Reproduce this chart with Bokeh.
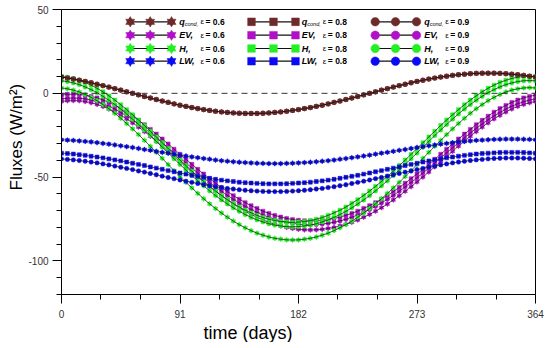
from bokeh.plotting import figure
from bokeh.models import Range1d, FixedTicker, Label, Span, Title
from bokeh.embed import file_html
from bokeh.resources import INLINE

days = [0, 4.55, 9.1, 13.65, 18.2, 22.75, 27.3, 31.85, 36.4, 40.95, 45.5, 50.05, 54.6, 59.15, 63.7,
        68.25, 72.8, 77.35, 81.9, 86.45, 91, 95.55, 100.1, 104.65, 109.2, 113.75, 118.3, 122.85,
        127.4, 131.95, 136.5, 141.05, 145.6, 150.15, 154.7, 159.25, 163.8, 168.35, 172.9, 177.45,
        182, 186.55, 191.1, 195.65, 200.2, 204.75, 209.3, 213.85, 218.4, 222.95, 227.5, 232.05,
        236.6, 241.15, 245.7, 250.25, 254.8, 259.35, 263.9, 268.45, 273, 277.55, 282.1, 286.65,
        291.2, 295.75, 300.3, 304.85, 309.4, 313.95, 318.5, 323.05, 327.6, 332.15, 336.7, 341.25,
        345.8, 350.35, 354.9, 359.45, 364]

q_cond = [9.7, 9.1, 8.5, 7.8, 7.1, 6.3, 5.4, 4.6, 3.7, 2.8, 1.9, 0.9, 0.0, -0.9, -1.9, -2.8, -3.7,
          -4.6, -5.4, -6.3, -7.1, -7.8, -8.5, -9.1, -9.7, -10.2, -10.7, -11.1, -11.4, -11.7, -11.9,
          -12.0, -12.0, -12.0, -11.9, -11.7, -11.4, -11.1, -10.7, -10.2, -9.7, -9.1, -8.5, -7.8,
          -7.1, -6.3, -5.4, -4.6, -3.7, -2.8, -1.9, -0.9, 0.0, 0.9, 1.9, 2.8, 3.7, 4.6, 5.4, 6.3,
          7.1, 7.8, 8.5, 9.1, 9.7, 10.2, 10.7, 11.1, 11.4, 11.7, 11.9, 12.0, 12.0, 12.0, 11.9, 11.7,
          11.4, 11.1, 10.7, 10.2, 9.7]

lw_06 = [-27.7, -27.9, -28.1, -28.4, -28.7, -29.0, -29.4, -29.9, -30.3, -30.8, -31.3, -31.8, -32.3,
         -32.9, -33.5, -34.0, -34.6, -35.2, -35.7, -36.3, -36.9, -37.4, -37.9, -38.4, -38.9, -39.3,
         -39.8, -40.2, -40.5, -40.8, -41.1, -41.3, -41.5, -41.7, -41.8, -41.9, -41.9,
         -41.9, -41.8, -41.7, -41.5, -41.3, -41.1, -40.8, -40.5, -40.2, -39.8, -39.3, -38.9, -38.4,
         -37.9, -37.4, -36.9, -36.3, -35.7, -35.2, -34.6, -34.0, -33.5, -32.9, -32.3, -31.8, -31.3,
         -30.8, -30.3, -29.9, -29.4, -29.0, -28.7, -28.4, -28.1, -27.9, -27.7, -27.5, -27.4, -27.3,
         -27.3, -27.3, -27.4, -27.5, -27.7]
lw_08 = [-35.7, -35.9, -36.2, -36.6, -37.0, -37.5, -38.0, -38.5, -39.1, -39.7, -40.3, -41.0, -41.7,
         -42.4, -43.1, -43.9, -44.6, -45.3, -46.1, -46.8, -47.5, -48.2, -48.9, -49.5, -50.1, -50.7,
         -51.3, -51.8, -52.2, -52.6, -53.0, -53.3, -53.5, -53.7, -53.9, -54.0, -54.0,
         -54.0, -53.9, -53.7, -53.5, -53.3, -53.0, -52.6, -52.2, -51.8, -51.3, -50.7, -50.1, -49.5,
         -48.9, -48.2, -47.5, -46.8, -46.1, -45.3, -44.6, -43.9, -43.1, -42.4, -41.7, -41.0, -40.3,
         -39.7, -39.1, -38.5, -38.0, -37.5, -37.0, -36.6, -36.2, -35.9, -35.7, -35.5, -35.3, -35.2,
         -35.2, -35.2, -35.3, -35.5, -35.7]
lw_09 = [-39.1, -39.4, -39.7, -40.1, -40.5, -41.0, -41.5, -42.1, -42.7, -43.4, -44.1, -44.8, -45.5,
         -46.3, -47.0, -47.8, -48.6, -49.4, -50.2, -50.9, -51.7, -52.4, -53.1, -53.8, -54.5, -55.1,
         -55.7, -56.2, -56.7, -57.1, -57.5, -57.8, -58.1, -58.3, -58.5, -58.6, -58.6,
         -58.6, -58.5, -58.3, -58.1, -57.8, -57.5, -57.1, -56.7, -56.2, -55.7, -55.1, -54.5, -53.8,
         -53.1, -52.4, -51.7, -50.9, -50.2, -49.4, -48.6, -47.8, -47.0, -46.3, -45.5, -44.8, -44.1,
         -43.4, -42.7, -42.1, -41.5, -41.0, -40.5, -40.1, -39.7, -39.4, -39.1, -38.9, -38.7, -38.6,
         -38.6, -38.6, -38.7, -38.9, -39.1]

h_06 = [3.2, 2.7, 1.9, 0.8, -0.7, -2.4, -4.4, -6.7, -9.2, -11.9, -14.9, -18.0, -21.2, -24.6, -28.1,
        -31.6, -35.2, -38.8, -42.5, -46.1, -49.6, -53.1, -56.4, -59.7, -62.9, -65.9, -68.7, -71.4,
        -73.9, -76.2, -78.3, -80.2, -81.9, -83.4, -84.6, -85.7, -86.5, -87.0, -87.4, -87.5,
        -87.4, -87.0, -86.5, -85.7, -84.6, -83.4, -81.9, -80.2, -78.3, -76.2, -73.9, -71.4, -68.7,
        -65.9, -62.9, -59.7, -56.4, -53.1, -49.6, -46.1, -42.5, -38.8, -35.2, -31.6, -28.1, -24.6,
        -21.2, -18.0, -14.9, -11.9, -9.2, -6.7, -4.4, -2.4, -0.7, 0.8, 1.9, 2.7, 3.2, 3.4, 3.2]
h_08 = [10.1, 9.6, 8.9, 7.8, 6.5, 4.9, 3.0, 0.9, -1.5, -4.0, -6.8, -9.7, -12.8, -15.9, -19.2, -22.6,
        -26.0, -29.5, -32.9, -36.4, -39.8, -43.1, -46.4, -49.5, -52.6, -55.5, -58.3, -60.9, -63.4,
        -65.7, -67.8, -69.7, -71.3, -72.8, -74.1, -75.1, -75.9, -76.5, -76.8, -77.0,
        -76.8, -76.5, -75.9, -75.1, -74.1, -72.8, -71.3, -69.7, -67.8, -65.7, -63.4, -60.9, -58.3,
        -55.5, -52.6, -49.5, -46.4, -43.1, -39.8, -36.4, -32.9, -29.5, -26.0, -22.6, -19.2, -15.9,
        -12.8, -9.7, -6.8, -4.0, -1.5, 0.9, 3.0, 4.9, 6.5, 7.8, 8.9, 9.6, 10.1, 10.2, 10.1]
h_09 = [7.5, 7.0, 6.2, 5.2, 3.8, 2.2, 0.4, -1.8, -4.1, -6.7, -9.4, -12.3, -15.4, -18.6, -21.9, -25.2,
        -28.7, -32.1, -35.6, -39.0, -42.4, -45.8, -49.0, -52.2, -55.2, -58.2, -61.0, -63.6, -66.0,
        -68.3, -70.4, -72.3, -74.0, -75.5, -76.7, -77.8, -78.6, -79.1, -79.5, -79.6,
        -79.5, -79.1, -78.6, -77.8, -76.7, -75.5, -74.0, -72.3, -70.4, -68.3, -66.0, -63.6, -61.0,
        -58.2, -55.2, -52.2, -49.0, -45.8, -42.4, -39.0, -35.6, -32.1, -28.7, -25.2, -21.9, -18.6,
        -15.4, -12.3, -9.4, -6.7, -4.1, -1.8, 0.4, 2.2, 3.8, 5.2, 6.2, 7.0, 7.5, 7.6, 7.5]

ev_06 = [-4.9, -4.4,
         -4.3, -4.4, -4.9, -5.6, -6.6, -7.8, -9.3, -11.1, -13.1, -15.2, -17.6, -20.1, -22.8, -25.6,
         -28.6, -31.5, -34.6, -37.7, -40.8, -43.8, -46.9, -49.9, -52.8, -55.7, -58.4, -61.1, -63.6,
         -66.0, -68.2, -70.3, -72.2, -73.9, -75.5, -76.9, -78.1, -79.1, -80.0, -80.6, -81.1, -81.4,
         -81.5,
         -81.4, -81.1, -80.6, -80.0, -79.1, -78.1, -76.9, -75.5, -73.9, -72.2, -70.3, -68.2, -66.0,
         -63.6, -61.1, -58.4, -55.7, -52.8, -49.9, -46.9, -43.8, -40.8, -37.7, -34.6, -31.5, -28.6,
         -25.6, -22.8, -20.1, -17.6, -15.2, -13.1, -11.1, -9.3, -7.8, -6.6, -5.6, -4.9]
ev_08 = [-1.1, -0.6,
         -0.5, -0.6, -1.1, -1.8, -2.7, -4.0, -5.4, -7.2, -9.1, -11.2, -13.6, -16.1, -18.7, -21.5,
         -24.3, -27.2, -30.2, -33.3, -36.3, -39.3, -42.3, -45.3, -48.1, -50.9, -53.6, -56.2, -58.6,
         -61.0, -63.1, -65.2, -67.0, -68.7, -70.3, -71.6, -72.8, -73.8, -74.6, -75.3, -75.7, -76.0,
         -76.1,
         -76.0, -75.7, -75.3, -74.6, -73.8, -72.8, -71.6, -70.3, -68.7, -67.0, -65.2, -63.1, -61.0,
         -58.6, -56.2, -53.6, -50.9, -48.1, -45.3, -42.3, -39.3, -36.3, -33.3, -30.2, -27.2, -24.3,
         -21.5, -18.7, -16.1, -13.6, -11.2, -9.1, -7.2, -5.4, -4.0, -2.7, -1.8, -1.1]
ev_09 = [-3.3, -2.9,
         -2.8, -2.9, -3.3, -4.0, -5.0, -6.2, -7.7, -9.4, -11.4, -13.5, -15.8, -18.3, -20.9, -23.7,
         -26.6, -29.5, -32.5, -35.5, -38.5, -41.6, -44.5, -47.5, -50.4, -53.2, -55.8, -58.4, -60.9,
         -63.2, -65.4, -67.4, -69.3, -71.0, -72.5, -73.9, -75.1, -76.1, -76.9, -77.5, -78.0, -78.3,
         -78.4,
         -78.3, -78.0, -77.5, -76.9, -76.1, -75.1, -73.9, -72.5, -71.0, -69.3, -67.4, -65.4, -63.2,
         -60.9, -58.4, -55.8, -53.2, -50.4, -47.5, -44.5, -41.6, -38.5, -35.5, -32.5, -29.5, -26.6,
         -23.7, -20.9, -18.3, -15.8, -13.5, -11.4, -9.4, -7.7, -6.2, -5.0, -4.0, -3.3]

x_ticks = [0, 91, 182, 273, 364]
y_ticks = [-100, -50, 0, 50]
eps_labels = ["0.6", "0.8", "0.9"]
var_names = ["q", "EV,", "H,", "LW,"]

BROWN = "#6E2A2A"
PURPLE = "#B010C8"
GREEN = "#22F022"
BLUE = "#0A0AF5"
FONT = "Liberation Sans"

# frame geometry in page pixels (used only to place the hand-drawn legend)
FX0, FX1, FY0, FY1 = 63.0, 537.0, 11.0, 296.0
X0, X1, Y0, Y1 = 0.0, 364.0, -120.0, 50.0


def dx(px):
    return X0 + (X1 - X0) * (px - FX0) / (FX1 - FX0)


def dy(py):
    return Y1 - (Y1 - Y0) * (py - FY0) / (FY1 - FY0)


p = figure(frame_width=474, frame_height=285, x_range=Range1d(X0, X1), y_range=Range1d(Y0, Y1),
           output_backend="svg", toolbar_location=None,
           min_border_left=61, min_border_right=10, min_border_top=9, min_border_bottom=44)
p.xgrid.visible = False
p.ygrid.visible = False
p.outline_line_color = "black"
p.outline_line_width = 1
p.outline_line_alpha = 1
p.background_fill_color = "white"
p.border_fill_color = "white"

minor_x = [30.33, 60.67, 121.33, 151.67, 212.33, 242.67, 303.33, 333.67]
minor_y = [-120, -110, -90, -80, -70, -60, -40, -30, -20, -10, 10, 20, 30, 40]
p.xaxis.ticker = FixedTicker(ticks=x_ticks, minor_ticks=minor_x)
p.yaxis.ticker = FixedTicker(ticks=y_ticks, minor_ticks=minor_y)
p.yaxis.major_label_overrides = {t: str(t) for t in y_ticks}
p.xaxis.major_label_overrides = {t: str(t) for t in x_ticks}
for ax in (p.xaxis, p.yaxis):
    ax.major_tick_out = 9
    ax.major_tick_in = 0
    ax.minor_tick_out = 5
    ax.minor_tick_in = 0
    ax.axis_line_color = "black"
    ax.major_tick_line_color = "black"
    ax.minor_tick_line_color = "black"
    ax.major_label_text_font = FONT
    ax.major_label_text_font_size = "10px"
    ax.major_label_text_color = "#333333"
p.xaxis.major_label_standoff = 6
p.yaxis.major_label_standoff = 4

p.add_layout(Span(location=0, dimension="width", line_color="#333333", line_width=1,
                  line_dash="6 4"))

series = [
    ("ev", [ev_06, ev_08, ev_09], PURPLE),
    ("h", [h_06, h_08, h_09], GREEN),
    ("lw", [lw_06, lw_08, lw_09], BLUE),
    ("q", [q_cond, q_cond, q_cond], BROWN),
]


def draw_marker(xs, ys, kind, color, size):
    if kind == 0:
        p.scatter(xs, ys, marker="triangle", size=size, fill_color=color, line_color=color,
                  line_width=0.5)
        p.scatter(xs, ys, marker="inverted_triangle", size=size, fill_color=color,
                  line_color=color, line_width=0.5)
    elif kind == 1:
        p.scatter(xs, ys, marker="square", size=size * 0.85, fill_color=color, line_color=color,
                  line_width=0.5)
    else:
        p.scatter(xs, ys, marker="circle", size=size * 0.95, fill_color=color, line_color=color,
                  line_width=0.5)


for name, lists, color in series:
    for kind, vals in enumerate(lists):
        draw_marker(days, vals, kind, color, 4.6)
        p.line(days, vals, line_color="#111111", line_width=0.7)

# legend (hand-drawn, 3 columns x 4 rows)
row_py = [23.3, 36.7, 50.0, 62.7]
col_marker_px = [[131.7, 151.7, 173.0], [253.0, 275.0, 297.0], [376.7, 397.0, 418.0]]
col_text_px = [180.7, 303.3, 425.7]
col_eps_px = [202.0, 324.3, 446.7]
row_colors = [BROWN, PURPLE, GREEN, BLUE]

for c in range(3):
    mx = [dx(v) for v in col_marker_px[c]]
    for r in range(4):
        yy = dy(row_py[r])
        p.line([mx[0], mx[-1]], [yy, yy], line_color="#111111", line_width=1.2)
        draw_marker(mx, [yy] * 3, c, row_colors[r], 9)
        tx = dx(col_text_px[c])
        p.add_layout(Label(x=tx, y=yy, text=var_names[r], text_font=FONT,
                           text_font_size="9px", text_font_style="bold italic",
                           text_baseline="middle", text_align="left", text_color="black"))
        if r == 0:
            p.add_layout(Label(x=tx, y=yy, x_offset=5.5, y_offset=-2.5, text="cond,",
                               text_font=FONT, text_font_size="5.5px",
                               text_font_style="italic", text_baseline="middle",
                               text_align="left", text_color="black"))
        ex = dx(col_eps_px[c])
        p.add_layout(Label(x=ex, y=yy, text="\u03b5", text_font=FONT, text_font_size="8px",
                           text_baseline="middle", text_align="left", text_color="black"))
        p.add_layout(Label(x=ex, y=yy, x_offset=5, text="= " + eps_labels[c], text_font=FONT,
                           text_font_size="8.5px", text_font_style="bold",
                           text_baseline="middle", text_align="left", text_color="black"))

# axis titles (off-centre, as in the reference)
p.add_layout(Title(text="time (days)", align="left", offset=142, standoff=0,
                   text_font=FONT, text_font_size="18px", text_font_style="normal",
                   text_color="black"), "below")
p.add_layout(Title(text="Fluxes (W/m\u00b2)", align="left", offset=104, standoff=0,
                   text_font=FONT, text_font_size="17px", text_font_style="normal",
                   text_color="black"), "left")

open("out.html", "w").write(file_html(p, INLINE))
